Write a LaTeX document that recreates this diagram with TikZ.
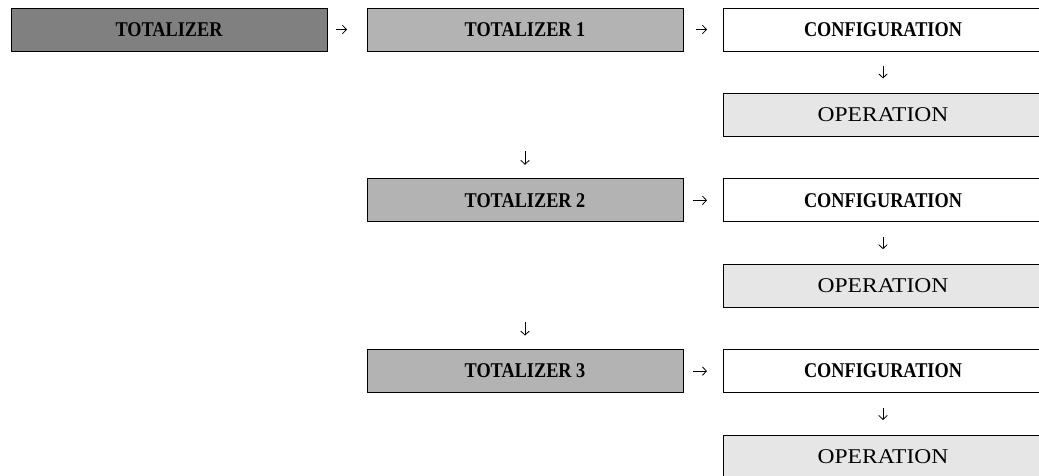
\documentclass[tikz,border=0pt]{standalone}
\usepackage{fontspec}
\setmainfont{Liberation Serif}
\newfontfamily\headfont{Liberation Serif}[FakeStretch=0.87]
\newfontfamily\itemfont{Liberation Serif}[FakeStretch=1.12]
\usetikzlibrary{arrows.meta,positioning}
\definecolor{topgrey}{HTML}{808080}
\definecolor{midgrey}{HTML}{B3B3B3}
\definecolor{backgrey}{HTML}{E6E6E6}

\begin{document}
\begin{tikzpicture}[
  x=1pt,y=1pt,
  node distance=42.4pt and 40pt,
  box/.style={draw=black,line width=0.9pt,minimum width=316pt,minimum height=43pt,inner sep=0pt,outer sep=0pt},
  main/.style={box,fill=topgrey,font=\headfont\fontsize{21}{25}\selectfont\bfseries},
  total/.style={box,fill=midgrey,font=\headfont\fontsize{21}{25}\selectfont\bfseries},
  conf/.style={box,fill=white,minimum width=320pt,font=\headfont\fontsize{21}{25}\selectfont\bfseries},
  oper/.style={box,fill=backgrey,minimum width=320pt,font=\itemfont\fontsize{21}{25}\selectfont},
  arr/.style={-{Straight Barb[length=4pt,width=8.5pt]},line width=0.8pt}
]
\useasboundingbox (0,0) rectangle (1039,-475);
\clip (0,0) rectangle (1039,-475);
% first row
\node[main] (tot) at (169,-29.5) {TOTALIZER};
\node[total,right=of tot] (tot1) {TOTALIZER 1};
\node[conf,right=of tot1] (conf1) {CONFIGURATION};
\node[oper,below=of conf1] (oper1) {OPERATION};
% second and third totalizer
\node[total,below=127.8pt of tot1] (tot2) {TOTALIZER 2};
\node[conf,right=of tot2] (conf2) {CONFIGURATION};
\node[oper,below=of conf2] (oper2) {OPERATION};
\node[total,below=127.8pt of tot2] (tot3) {TOTALIZER 3};
\node[conf,right=of tot3] (conf3) {CONFIGURATION};
\node[oper,below=of conf3] (oper3) {OPERATION};
% arrows
\draw[arr,shorten <=9pt,shorten >=20pt] (tot) -- (tot1);
\draw[arr,shorten <=13pt,shorten >=16pt] (tot1) -- (conf1);
\draw[arr,shorten <=10pt,shorten >=16pt] (tot2) -- (conf2);
\draw[arr,shorten <=10pt,shorten >=16pt] (tot3) -- (conf3);
\draw[arr,shorten <=15pt,shorten >=15pt] (conf1) -- (oper1);
\draw[arr,shorten <=15pt,shorten >=15pt] (conf2) -- (oper2);
\draw[arr,shorten <=15pt,shorten >=15pt] (conf3) -- (oper3);
\draw[arr,shorten <=100pt,shorten >=14pt] (tot1) -- (tot2);
\draw[arr,shorten <=100pt,shorten >=14pt] (tot2) -- (tot3);
\end{tikzpicture}
\end{document}
